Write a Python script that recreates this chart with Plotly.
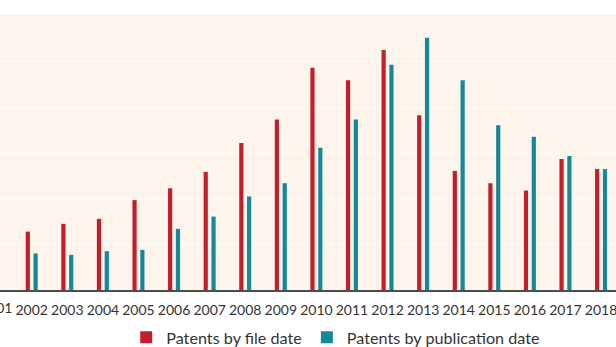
import plotly.graph_objects as go

years = list(range(2002, 2019))
file_date = [128, 145, 156, 197, 223, 259, 322, 374, 487, 460, 526, 383, 261, 234, 218, 287, 265]
pub_date = [80, 77, 85, 88, 134, 161, 205, 234, 312, 374, 494, 553, 460, 361, 336, 294, 265]
tick_years = list(range(2001, 2019))
tick_labels = [str(y) for y in tick_years]

RED = "#c41e2a"
TEAL = "#15889b"
FONT = "Lato, 'Noto Sans', sans-serif"

x_range = [2001.109, 2018.42]
bar_w = 0.118

fig = go.Figure()
fig.add_trace(go.Bar(x=years, y=file_date, name="Patents by file date",
                     marker=dict(color=RED, line=dict(width=0)),
                     width=bar_w, offset=-0.169))
fig.add_trace(go.Bar(x=years, y=pub_date, name="Patents by publication date",
                     marker=dict(color=TEAL, line=dict(width=0)),
                     width=bar_w, offset=0.051))

# label for the partially visible first tick (outside visible range)
fig.add_annotation(xref="paper", yref="paper",
                   x=(2001 - x_range[0]) / (x_range[1] - x_range[0]), y=-0.027,
                   text="2001", showarrow=False, xanchor="center", yanchor="top",
                   font=dict(family=FONT, size=14, color="#333333"))

fig.update_layout(
    width=616, height=347,
    margin=dict(l=0, r=0, t=14, b=57, autoexpand=False),
    paper_bgcolor="white",
    plot_bgcolor="#fdf5ec",
    barmode="overlay",
    showlegend=True,
    legend=dict(orientation="h", x=0.545, xanchor="center", y=-0.173, yanchor="middle",
                font=dict(family=FONT, size=16.2, color="#333333"),
                itemwidth=30, bgcolor="rgba(0,0,0,0)"),
    font=dict(family=FONT, color="#333333"),
    xaxis=dict(range=x_range, tickmode="array", tickvals=tick_years, ticktext=tick_labels,
               showgrid=False, zeroline=False, showline=True, linecolor="#4d4d4d",
               linewidth=1.5, ticks="", tickangle=0, automargin=False,
               tickfont=dict(family=FONT, size=14, color="#333333"),
               ticklabelstandoff=6, ticklabeloverflow="allow"),
    yaxis=dict(range=[0, 605], tickmode="array", tickvals=[100, 200, 300, 400, 500],
               showticklabels=False, showgrid=True, gridcolor="rgba(255,255,255,0.75)",
               gridwidth=1, zeroline=False, showline=False, automargin=False),
)

fig.write_html("out.html")
